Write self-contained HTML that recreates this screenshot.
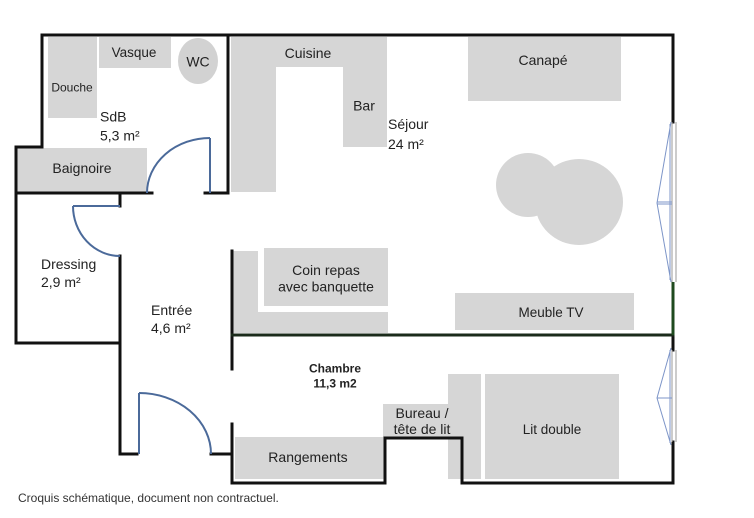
<!DOCTYPE html>
<html><head><meta charset="utf-8"><style>
html,body{margin:0;padding:0;background:#fff;}
svg{display:block;}
text{font-family:"Liberation Sans",Arial,sans-serif;fill:#222;}
</style></head><body>
<svg width="754" height="518" viewBox="0 0 754 518" xmlns="http://www.w3.org/2000/svg">
<rect width="754" height="518" fill="#fff"/>
<g fill="#d6d6d6">
<rect x="48" y="37" width="49" height="81"/>
<rect x="99" y="37" width="72" height="31"/>
<ellipse cx="198" cy="61" rx="20" ry="23" fill="#d2d2d2"/>
<rect x="17" y="148" width="130" height="44"/>
<rect x="231" y="37" width="45" height="155"/>
<rect x="231" y="37" width="156" height="30"/>
<rect x="343" y="37" width="44" height="110"/>
<rect x="468" y="37" width="153" height="64"/>
<circle cx="528" cy="185" r="32"/>
<ellipse cx="579" cy="202" rx="44" ry="43"/>
<rect x="233" y="251" width="25" height="82"/>
<rect x="233" y="312" width="155" height="21"/>
<rect x="264" y="248" width="124" height="58"/>
<rect x="455" y="293" width="179" height="37"/>
<rect x="235" y="437" width="149" height="42"/>
<rect x="383" y="404" width="80" height="34"/>
<rect x="448" y="374" width="33" height="105"/>
<rect x="485" y="374" width="134" height="105"/>
</g>
<g fill="none" stroke="#111" stroke-width="3" stroke-linecap="square">
<polyline points="42,147 42,35 673,35 673,122"/>
<polyline points="16,147 42,147"/>
<polyline points="16,147 16,343 120,343"/>
<polyline points="16,193 152,193"/>
<polyline points="205,193 228,193 228,35"/>
<polyline points="120,193 120,206"/>
<polyline points="120,256 120,454 137,454"/>
<polyline points="211,454 232,454"/>
<polyline points="232,251 232,369"/>
<polyline points="232,424 232,483 385,483 385,438 462,438 462,483 673,483 673,442"/>
<polyline points="673,335 673,350"/>
<line x1="232" y1="335" x2="673" y2="335" stroke="#1b2b1b"/>
</g>
<line x1="673" y1="282" x2="673" y2="335" stroke="#1f4a1f" stroke-width="3"/>
<g fill="none" stroke="#4b6a9a" stroke-width="2">
<line x1="210" y1="138" x2="210" y2="193"/>
<path d="M210,138 A63,55 0 0 0 147,193"/>
<line x1="73" y1="206" x2="120" y2="206"/>
<path d="M73,206 A47,50 0 0 0 120,256"/>
<line x1="139" y1="393" x2="139" y2="454"/>
<path d="M139,393 A72,61 0 0 1 211,454"/>
</g>
<g fill="none" stroke="#999" stroke-width="1">
<line x1="672" y1="122" x2="672" y2="282"/>
<line x1="676" y1="122" x2="676" y2="282"/>
<line x1="672" y1="350" x2="672" y2="442"/>
<line x1="676" y1="350" x2="676" y2="442"/>
</g>
<g fill="none" stroke="#7d95c8" stroke-width="1">
<polyline points="671,122 657,203 671,282"/>
<line x1="657" y1="202" x2="672" y2="202"/>
<line x1="657" y1="204" x2="672" y2="204"/>
<line x1="670" y1="124" x2="670" y2="280"/>
<polyline points="671,348 657,398 671,445"/>
<line x1="657" y1="398" x2="672" y2="398"/>
<line x1="670" y1="350" x2="670" y2="443"/>
</g>
<g font-size="14" text-anchor="middle">
<text x="134" y="57" font-size="13.5">Vasque</text>
<text x="198" y="66.5">WC</text>
<text x="72" y="91.5" font-size="12">Douche</text>
<text x="82" y="173">Baignoire</text>
<text x="308" y="58">Cuisine</text>
<text x="364" y="110.5">Bar</text>
<text x="543" y="65">Canapé</text>
<text x="326" y="275">Coin repas</text>
<text x="326" y="291.5">avec banquette</text>
<text x="551" y="317" font-size="13.5">Meuble TV</text>
<text x="422" y="418">Bureau /</text>
<text x="422" y="434">tête de lit</text>
<text x="552" y="434" font-size="13.5">Lit double</text>
<text x="308" y="462">Rangements</text>
<text x="335" y="372.5" font-size="12" font-weight="bold">Chambre</text>
<text x="335" y="387.5" font-size="12" font-weight="bold">11,3 m2</text>
</g>
<g font-size="14" style="fill:#111">
<text x="100" y="121.5">SdB</text>
<text x="100" y="140.5">5,3 m²</text>
<text x="388" y="129">Séjour</text>
<text x="388" y="149">24 m²</text>
<text x="41" y="269">Dressing</text>
<text x="41" y="287">2,9 m²</text>
<text x="151" y="315">Entrée</text>
<text x="151" y="333">4,6 m²</text>
</g>
<text x="18" y="502" font-size="12" style="fill:#333">Croquis schématique, document non contractuel.</text>
</svg>
</body></html>
